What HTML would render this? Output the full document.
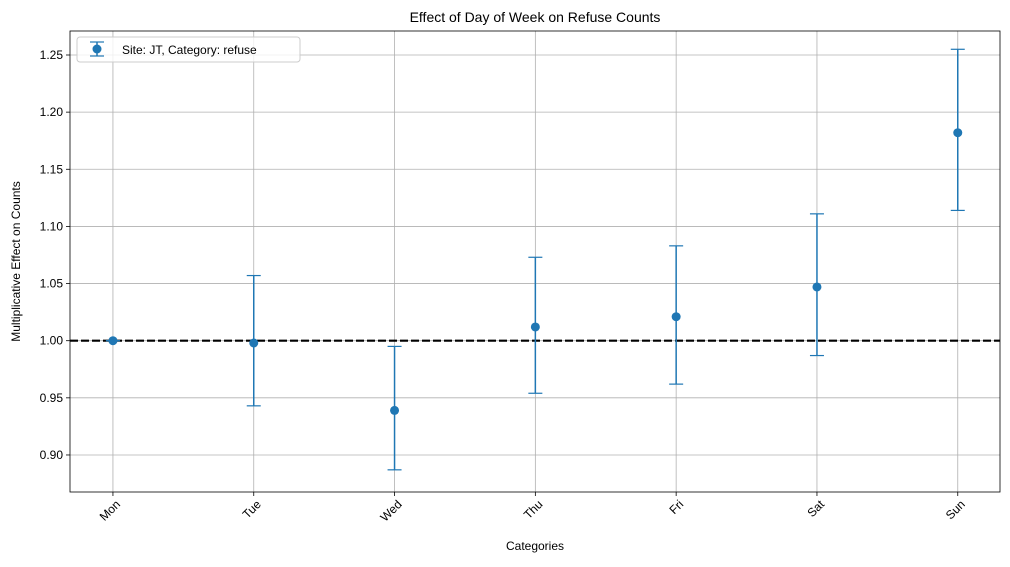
<!DOCTYPE html>
<html><head><meta charset="utf-8"><style>
body{margin:0;background:#fff;font-family:"Liberation Sans",sans-serif;}
</style></head><body>
<svg id="chart" width="1010" height="562" xmlns="http://www.w3.org/2000/svg" font-family="Liberation Sans, sans-serif"></svg>
<script>
const categories=["Mon","Tue","Wed","Thu","Fri","Sat","Sun"];
const estimates=[1.000,0.998,0.939,1.012,1.021,1.047,1.182];
const lower=[1.000,0.943,0.887,0.954,0.962,0.987,1.114];
const upper=[1.000,1.057,0.995,1.073,1.083,1.111,1.255];
const yTicks=[0.90,0.95,1.00,1.05,1.10,1.15,1.20,1.25];
const refLine=1.0;

const L=70,R=1000,T=31,B=492;
const xMin=-0.305,xMax=6.3,yMin=0.8676,yMax=1.271;
const xs=i=>L+(i-xMin)/(xMax-xMin)*(R-L);
const ys=v=>B-(v-yMin)/(yMax-yMin)*(B-T);
const svg=document.getElementById('chart');
const NS="http://www.w3.org/2000/svg";
function mk(tag,attrs,parent){const e=document.createElementNS(NS,tag);for(const k in attrs)e.setAttribute(k,attrs[k]);(parent||svg).appendChild(e);return e;}
const blue="#1f77b4";
categories.forEach((c,i)=>{
  const g=mk('line',{x1:xs(i),x2:xs(i),y1:T,y2:B,stroke:'#b0b0b0','stroke-width':0.8});
  
  
  mk('line',{x1:xs(i),x2:xs(i),y1:B,y2:B+4,stroke:'#000','stroke-width':0.8});
  const t=mk('text',{x:0,y:0,'font-size':12,'text-anchor':'end',transform:`translate(${xs(i)+8},${B+13}) rotate(-45)`});
  t.textContent=c;
  
  
});
yTicks.forEach(v=>{
  const g=mk('line',{x1:L,x2:R,y1:ys(v),y2:ys(v),stroke:'#b0b0b0','stroke-width':0.8});
  
  
  mk('line',{x1:L-4,x2:L,y1:ys(v),y2:ys(v),stroke:'#000','stroke-width':0.8});
  const t=mk('text',{x:L-7,y:ys(v)+4,'font-size':12,'text-anchor':'end'});
  t.textContent=v.toFixed(2);
  
  
});
const rl=mk('line',{x1:L,x2:R,y1:ys(refLine),y2:ys(refLine),stroke:'#000','stroke-width':2.2,'stroke-dasharray':'8,3'});


categories.forEach((c,i)=>{
  const x=xs(i);
  const g=mk('g',{});
  
  
  mk('line',{x1:x,x2:x,y1:ys(lower[i]),y2:ys(upper[i]),stroke:blue,'stroke-width':1.5},g);
  mk('line',{x1:x-7,x2:x+7,y1:ys(lower[i]),y2:ys(lower[i]),stroke:blue,'stroke-width':1.2},g);
  mk('line',{x1:x-7,x2:x+7,y1:ys(upper[i]),y2:ys(upper[i]),stroke:blue,'stroke-width':1.2},g);
  mk('circle',{cx:x,cy:ys(estimates[i]),r:4.5,fill:blue},g);
});
const fr=mk('rect',{x:L,y:T,width:R-L,height:B-T,fill:'none',stroke:'#000','stroke-width':0.8});


const ti=mk('text',{x:(L+R)/2,y:22,'font-size':14,'text-anchor':'middle'});ti.textContent='Effect of Day of Week on Refuse Counts';


const xt=mk('text',{x:(L+R)/2,y:550,'font-size':12,'text-anchor':'middle'});xt.textContent='Categories';


const yt=mk('text',{x:0,y:0,'font-size':12,'text-anchor':'middle',transform:`translate(20,${(T+B)/2}) rotate(-90)`});yt.textContent='Multiplicative Effect on Counts';


const lg=mk('g',{});


mk('rect',{x:77,y:37,width:223,height:25,rx:3,fill:'#fff','fill-opacity':0.8,stroke:'#ccc'},lg);
mk('line',{x1:97,x2:97,y1:42,y2:56,stroke:blue,'stroke-width':1.5},lg);
mk('line',{x1:90,x2:104,y1:42,y2:42,stroke:blue,'stroke-width':1.2},lg);
mk('line',{x1:90,x2:104,y1:56,y2:56,stroke:blue,'stroke-width':1.2},lg);
mk('circle',{cx:97,cy:49,r:4.5,fill:blue},lg);
const lt=mk('text',{x:122,y:54,'font-size':12},lg);lt.textContent='Site: JT, Category: refuse';


</script>
</body></html>
